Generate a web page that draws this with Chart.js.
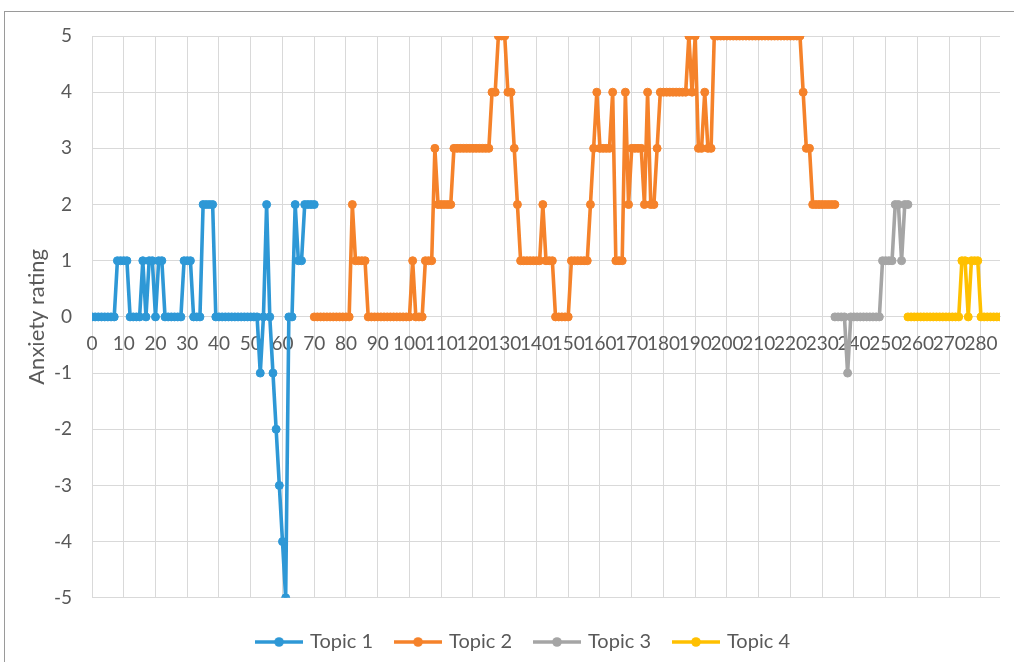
<!DOCTYPE html>
<html><head><meta charset="utf-8">
<script src="https://cdn.jsdelivr.net/npm/chart.js@4.4.1/dist/chart.umd.min.js"></script>
<style>
html,body{margin:0;padding:0;background:#fff;overflow:hidden;width:1014px;height:662px}
#frame{position:absolute;left:4px;top:11px;width:1030px;height:680px;border:1px solid #9a9a9a;box-sizing:border-box}
#wrap{position:absolute;left:0;top:0;width:1014px;height:662px}
</style></head><body>
<div id="frame"></div>
<div id="wrap"><canvas id="c" width="1014" height="662"></canvas></div>
<script>
// x axis: category index 0..286, labelled every 10
const xTickLabels = [0,10,20,30,40,50,60,70,80,90,100,110,120,130,140,150,160,170,180,190,200,210,220,230,240,250,260,270,280];
const xMax = 286;
const yTickLabels = [-5,-4,-3,-2,-1,0,1,2,3,4,5];

const seriesNames = ['Topic 1','Topic 2','Topic 3','Topic 4'];
const seriesColors = ['#2E98D6','#F5822A','#A5A5A5','#FFC000'];

const topic1Start = 0;
const topic1 = [0,0,0,0,0,0,0,0, 1,1,1,1, 0,0,0,0, 1,0,1,1,0,1,1, 0,0,0,0,0,0, 1,1,1, 0,0,0, 2,2,2,2,
  0,0,0,0,0,0,0,0,0,0,0,0,0,0,
  -1,0,2,0,-1,-2,-3,-4,-5,0,0,2,1,1,2,2,2,2];

const topic2Start = 70;
const topic2 = [0,0,0,0,0,0,0,0,0,0,0,0, 2, 1,1,1,1,
  0,0,0,0,0,0,0,0,0,0,0,0,0,0, 1, 0,0,0, 1,1,1, 3, 2,2,2,2,2,
  3,3,3,3,3,3,3,3,3,3,3,3, 4,4, 5,5,5, 4,4, 3, 2, 1,1,1,1,1,1,1, 2, 1,1,1, 0,0,0,0,0,
  1,1,1,1,1,1, 2, 3, 4, 3,3,3,3, 4, 1,1,1, 4, 2, 3,3,3,3, 2, 4, 2,2, 3,
  4,4,4,4,4,4,4,4,4, 5, 4, 5, 3,3, 4, 3,3,
  5,5,5,5,5,5,5,5,5,5,5,5,5,5,5,5,5,5,5,5,5,5,5,5,5,5,5,5,
  4, 3,3, 2,2,2,2,2,2,2,2];

const topic3Start = 234;
const topic3 = [0,0,0,0, -1, 0,0,0,0,0,0,0,0,0,0, 1,1,1,1, 2,2, 1, 2,2];

const topic4Start = 257;
const topic4 = [0,0,0,0,0,0,0,0,0,0,0,0,0,0,0,0,0, 1,1, 0, 1,1,1, 0,0,0,0,0,0,0];

const FONT = 'Lato';
const TXT = '#595959';
const GRID = '#d9d9d9';

function toPoints(start, arr){ return arr.map((v,i)=>({x:start+i, y:v})); }

function legendIcon(color){
  const c = document.createElement('canvas');
  c.width = 48; c.height = 12;
  const g = c.getContext('2d');
  g.strokeStyle = color; g.lineWidth = 3.5;
  g.beginPath(); g.moveTo(0,6); g.lineTo(48,6); g.stroke();
  g.fillStyle = color; g.beginPath(); g.arc(24,6,4.8,0,Math.PI*2); g.fill();
  return c;
}
const icons = seriesColors.map(legendIcon);

const starts = [topic1Start, topic2Start, topic3Start, topic4Start];
const values = [topic1, topic2, topic3, topic4];

const datasets = seriesNames.map((n,i)=>({
  label: n,
  data: toPoints(starts[i], values[i]),
  borderColor: seriesColors[i],
  backgroundColor: seriesColors[i],
  pointBackgroundColor: seriesColors[i],
  pointBorderColor: seriesColors[i],
  borderWidth: 3.6,
  pointRadius: 4,
  pointBorderWidth: 1,
  pointStyle: 'circle',
  tension: 0,
  fill: false
}));

const legendShift = {
  id: 'legendShift',
  afterLayout(chart){ if (chart.legend) { chart.legend.left += 28; } }
};

new Chart(document.getElementById('c'), {
  type: 'line',
  data: { datasets },
  plugins: [legendShift],
  options: {
    responsive: false,
    animation: false,
    devicePixelRatio: 1,
    layout: { padding: { left: 20, right: 14, top: 36, bottom: 0 } },
    plugins: {
      tooltip: { enabled: false },
      legend: {
        position: 'bottom',
        align: 'center',
        title: { display: true, text: ' ', font: { size: 1 }, padding: { top: 9, bottom: 0 } },
        labels: {
          usePointStyle: true,
          pointStyleWidth: 42,
          boxHeight: 12,
          padding: 24,
          color: TXT,
          font: { family: FONT, size: 20 },
          generateLabels(chart){
            const items = Chart.defaults.plugins.legend.labels.generateLabels(chart);
            items.forEach((it,i)=>{ it.pointStyle = icons[i]; });
            return items;
          }
        }
      }
    },
    scales: {
      x: {
        type: 'linear',
        min: 0, max: xMax,
        position: { y: 0 },
        afterBuildTicks(s){ s.ticks = xTickLabels.map(v=>({value:v})); },
        ticks: { autoSkip: false, maxRotation: 0, minRotation: 0, padding: 16, color: TXT, font: { family: FONT, size: 19 } },
        grid: { color: GRID, lineWidth: 1, drawTicks: false },
        border: { color: GRID, width: 1 }
      },
      y: {
        min: -5, max: 5,
        afterBuildTicks(s){ s.ticks = yTickLabels.map(v=>({value:v})); },
        afterFit(s){ s.width = 72; },
        ticks: { padding: 20, color: TXT, font: { family: FONT, size: 19 } },
        grid: { color: GRID, lineWidth: 1, drawTicks: false },
        border: { display: false },
        title: { display: true, text: 'Anxiety rating', color: TXT, font: { family: FONT, size: 22 }, padding: { top: 4, bottom: 4 } }
      }
    }
  }
});
</script>
</body></html>
